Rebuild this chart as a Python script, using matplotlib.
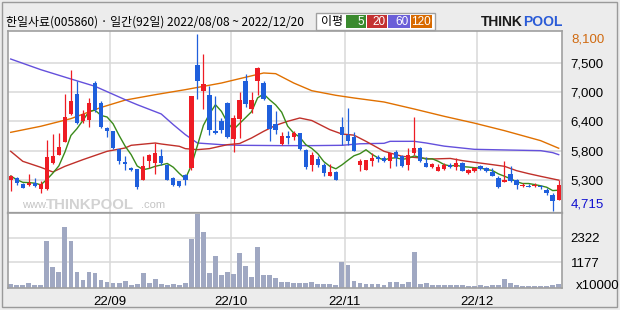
import matplotlib

matplotlib.use("Agg")
import matplotlib.pyplot as plt
import matplotlib.transforms as mtransforms
from matplotlib.patches import Rectangle
import numpy as np
import pandas as pd

# daily candles, 2022/08/08 ~ 2022/12/20 (92 trading days)
opens = [5297, 5341, 5233, 5207, 5245, 5137, 5137, 5628, 5787, 6036,
         6571, 6947, 6425, 6456, 7157, 6775, 6297, 6233, 5902, 5641,
         5526, 5513, 5309, 5673, 5628, 5755, 5596, 5341, 5277, 5405,
         5532, 7508, 7011, 6934, 6233, 6425, 6775, 6093, 6476, 7202,
         6660, 7202, 7157, 6730, 6374, 5991, 6151, 6125, 6195, 5877,
         5583, 5711, 5596, 5386, 5456, 6316, 6157, 6119, 5583, 5500,
         5673, 5743, 5723, 5660, 5838, 5768, 5583, 5819, 5915, 5634,
         5558, 5481, 5520, 5596, 5545, 5628, 5437, 5481, 5577, 5539,
         5462, 5341, 5271, 5418, 5309, 5195, 5195, 5188, 5182, 5118,
         5010, 4927]
highs = [5405, 5360, 5245, 5424, 5335, 5277, 6074, 6182, 6208, 6947,
         7412, 7189, 6635, 6871, 7189, 6807, 6316, 6246, 5902, 5768,
         5545, 5513, 5755, 5800, 6010, 5902, 5609, 5354, 5290, 5418,
         6915, 8100, 7718, 7094, 6902, 6488, 6794, 6539, 6985, 7329,
         6985, 7457, 7202, 6743, 6628, 6221, 6233, 6246, 6208, 5902,
         5838, 5755, 5628, 5609, 5469, 6501, 6679, 6221, 5711, 5692,
         5819, 5787, 5755, 5826, 5877, 5787, 5915, 6501, 5928, 5736,
         5628, 5609, 5622, 5628, 5723, 5641, 5520, 5545, 5596, 5558,
         5532, 5373, 5660, 5564, 5328, 5245, 5227, 5239, 5214, 5150,
         5061, 5309]
lows = [5099, 5214, 5150, 5195, 5176, 5061, 5120, 5600, 5775, 6020,
        6540, 6380, 6393, 6316, 6603, 6297, 6119, 5902, 5609, 5500,
        5481, 5137, 5300, 5532, 5418, 5596, 5297, 5182, 5163, 5214,
        5500, 6858, 6660, 6157, 6182, 6201, 6106, 5832, 6106, 6692,
        6584, 6934, 6839, 6055, 6182, 5966, 5991, 6074, 5883, 5520,
        5481, 5545, 5373, 5373, 5309, 5966, 5978, 5851, 5481, 5494,
        5564, 5641, 5647, 5532, 5564, 5551, 5500, 5787, 5647, 5545,
        5532, 5469, 5500, 5532, 5500, 5469, 5418, 5456, 5500, 5456,
        5373, 5150, 5265, 5265, 5137, 5176, 5163, 5163, 5137, 5022,
        4715, 4927]
closes = [5379, 5239, 5156, 5239, 5195, 5226, 5743, 5768, 5934, 6507,
          6820, 6393, 6565, 6775, 6635, 6316, 6246, 5915, 5660, 5615,
          5500, 5163, 5564, 5775, 5819, 5628, 5309, 5201, 5182, 5309,
          6902, 7202, 7145, 6265, 6195, 6265, 6125, 6488, 6839, 6756,
          6839, 7444, 6858, 6284, 6265, 6144, 6106, 6195, 5902, 5545,
          5787, 5596, 5437, 5456, 5309, 6157, 6042, 5864, 5660, 5679,
          5723, 5704, 5673, 5813, 5723, 5577, 5787, 5915, 5673, 5558,
          5609, 5545, 5596, 5545, 5628, 5481, 5500, 5532, 5520, 5481,
          5386, 5176, 5309, 5277, 5201, 5214, 5176, 5207, 5163, 5061,
          4895, 5214]
# volume, x10000 shares
volumes = [163, 116, 116, 210, 116, 116, 2162, 953, 721, 2814,
           2162, 721, 349, 721, 675, 349, 256, 210, 210, 303,
           116, 163, 675, 210, 396, 163, 116, 163, 116, 210,
           2256, 3418, 2581, 675, 1465, 582, 721, 628, 1604, 1000,
           488, 1884, 582, 582, 442, 256, 256, 210, 210, 210,
           256, 163, 163, 163, 116, 1186, 1047, 303, 210, 163,
           163, 163, 116, 256, 256, 163, 256, 1651, 163, 210,
           116, 116, 116, 116, 116, 116, 60, 60, 116, 55,
           116, 116, 395, 209, 116, 55, 55, 55, 55, 85,
           116, 163]

# moving averages (need history before 08/08)
ma20_idx = [0, 2, 5, 7, 9, 12, 16, 19, 20, 24, 25, 28, 29, 31, 33, 36, 38, 40, 42,
            44, 46, 48, 50, 53, 55, 57, 59, 62, 65, 70, 73, 75, 77, 80, 82, 84, 86, 88, 91]
ma20_val = [5851, 5660, 5545, 5456, 5564, 5692, 5851, 5915, 5966, 6010, 5991, 5947,
            5902, 5883, 5902, 5978, 6000, 6106, 6233, 6348, 6425, 6488, 6440, 6265,
            6182, 6160, 6042, 5851, 5755, 5704, 5715, 5673, 5641, 5596, 5564, 5481,
            5424, 5373, 5300]
ma60_idx = [0, 5, 10, 14, 19, 21, 25, 27, 29, 31, 35, 38, 45, 50, 55, 58, 62, 63,
            67, 69, 72, 77, 83, 88, 90, 91]
ma60_val = [7616, 7412, 7234, 7094, 6839, 6743, 6565, 6361, 6170, 6010, 5978, 5966,
            5960, 5960, 5966, 5995, 6004, 6042, 6042, 6010, 5950, 5889, 5875, 5864,
            5826, 5787]
ma120_idx = [0, 5, 10, 15, 19, 24, 29, 35, 38, 42, 44, 47, 50, 54, 57, 62, 67, 72,
             77, 82, 88, 91]
ma120_val = [6214, 6330, 6476, 6690, 6830, 6934, 7030, 7157, 7240, 7349, 7336, 7157,
             7010, 6922, 6871, 6794, 6660, 6520, 6390, 6246, 6055, 5910]

price_ticks = [7534, 6980, 6425, 5863, 5303]
price_labels = ["7,500", "7,000", "6,400", "5,800", "5,300"]
vol_ticks = [1177, 2322]
month_pos = [16.5, 36.5, 55.5, 77.5]
month_labels = ["22/09", "22/10", "22/11", "22/12"]

UP, DOWN = "#ee1c24", "#1f5fdc"
GRID, FRAME = "#d9d9d9", "#a0a0a0"
NUM_FONT = ["Liberation Sans", "DejaVu Sans"]
KR_FONT = ["Noto Sans CJK KR", "DejaVu Sans"]


def px(x, y):
    # pixel position from the top-left corner -> figure fraction
    return x / 620, 1 - y / 310


o, h, l, c = (np.array(a, float) for a in (opens, highs, lows, closes))
idx = np.arange(len(c))
ma5 = pd.Series(c).rolling(5, min_periods=1).mean()

fig = plt.figure(figsize=(6.2, 3.1), dpi=100, facecolor="#ececec")
fig.patches.append(Rectangle((2 / 620, 3 / 310), 615 / 620, 305 / 310, transform=fig.transFigure,
                             fill=False, ec="#9a9a9a", lw=1.0))
L, W = 7.7 / 620, 554 / 620
ax = fig.add_axes([L, 97.5 / 310, W, 181.2 / 310])
axv = fig.add_axes([L, 22.5 / 310, W, 75 / 310], sharex=ax)

for a in (ax, axv):
    a.set_facecolor("white")
    for s in a.spines.values():
        s.set_color(FRAME)
        s.set_linewidth(1.2)
    for x in month_pos:
        a.axvline(x, color=GRID, lw=1.1, zorder=0)
    a.tick_params(length=0, labelsize=8.5, colors="black")
    a.yaxis.tick_right()
ax.spines["bottom"].set_linewidth(1.6)
ax.spines["bottom"].set_color("#909090")

# price panel
for y in price_ticks:
    ax.axhline(y, color=GRID, lw=1.1, zorder=0)
ax.plot(ma120_idx, ma120_val, color="#e07000", lw=1.0, zorder=1)
ax.plot(ma60_idx, ma60_val, color="#6450dc", lw=1.0, zorder=1)
ax.plot(ma20_idx, ma20_val, color="#c0302a", lw=1.0, zorder=1)
ax.plot(idx, ma5, color="#3a8a1a", lw=1.0, zorder=1)

cols = np.where(c >= o, UP, DOWN)
ax.vlines(idx, l, h, colors=cols, lw=0.9, zorder=2)
body = np.maximum(np.abs(c - o), 12)
ax.bar(idx, body, bottom=np.minimum(o, c), width=0.72, color=cols, zorder=3)

ax.set_xlim(-0.5, len(c) - 0.5)
ax.set_ylim(4681, 8146)
ax.set_yticks(price_ticks)
ax.set_yticklabels(price_labels, fontfamily=NUM_FONT, fontsize=9.5)
ax.tick_params(axis="y", pad=6.5)
ax.tick_params(axis="x", labelbottom=False)

tr = mtransforms.blended_transform_factory(ax.transAxes, ax.transData)
ax.text(1.0168, h.max(), f"{int(h.max()):,}", transform=tr, va="top", ha="left",
        color="#d06a10", fontsize=9.5, family=NUM_FONT)
ax.text(1.0168, l.min(), f"{int(l.min()):,}", transform=tr, va="bottom", ha="left",
        color="#1010d0", fontsize=9.5, family=NUM_FONT)

# watermark
fig.text(*px(22, 205), "www.", color="#c4c4c4", fontsize=8, family=NUM_FONT, va="center")
fig.text(*px(46, 205), "THINKPOOL", color="#d2d2d2", fontsize=10.8, fontweight="bold",
         family=NUM_FONT, va="center")
fig.text(*px(141, 205), ".com", color="#c4c4c4", fontsize=8, family=NUM_FONT, va="center")

# volume panel
for y in vol_ticks:
    axv.axhline(y, color=GRID, lw=1.1, zorder=0)
axv.bar(idx, volumes, width=0.8, color="#a0a8c2", zorder=2)
axv.set_ylim(0, 3488)
axv.set_yticks(vol_ticks)
axv.set_yticklabels([str(v) for v in vol_ticks], fontfamily=NUM_FONT, fontsize=9.5)
axv.tick_params(axis="y", pad=6.5)
axv.set_xticks(month_pos)
axv.set_xticklabels(month_labels, fontfamily=NUM_FONT, fontsize=9.5)
axv.tick_params(axis="x", pad=6)
fig.text(*px(576, 285.7), "x10000", fontsize=9.5, family=NUM_FONT, va="center")

# header
fig.text(*px(6, 21.7), "한일사료(005860) · 일간(92일) 2022/08/08 ~ 2022/12/20",
         fontsize=8.6, family=KR_FONT, va="center")
fig.patches.append(Rectangle(px(316, 30), 119 / 620, 17.5 / 310,
                             transform=fig.transFigure, fc="white", ec=FRAME, lw=1.0))
fig.text(*px(321, 21.7), "이평", fontsize=8.6, family=KR_FONT, va="center")
for x0, x1, lab, col in [(346, 366, "5", "#3a8a2e"), (367, 387, "20", "#c33131"),
                         (388, 410, "60", "#6b5fd8"), (411, 432, "120", "#d86a00")]:
    fig.patches.append(Rectangle(px(x0, 28), (x1 - x0) / 620, 13 / 310,
                                 transform=fig.transFigure, fc=col, ec="none"))
    fig.text(*px(x1 - 1.5, 21.7), lab, color="white", fontsize=8.5,
             family=NUM_FONT, va="center", ha="right")
fig.text(*px(481, 21.7), "THINK", fontsize=10, fontweight="bold",
         family=NUM_FONT, va="center", color="#1a1a1a")
fig.text(*px(523, 21.7), "POOL", fontsize=10, fontweight="bold",
         family=NUM_FONT, va="center", color="#2a5bd7")

fig.savefig("out.png", dpi=100, facecolor=fig.get_facecolor())
